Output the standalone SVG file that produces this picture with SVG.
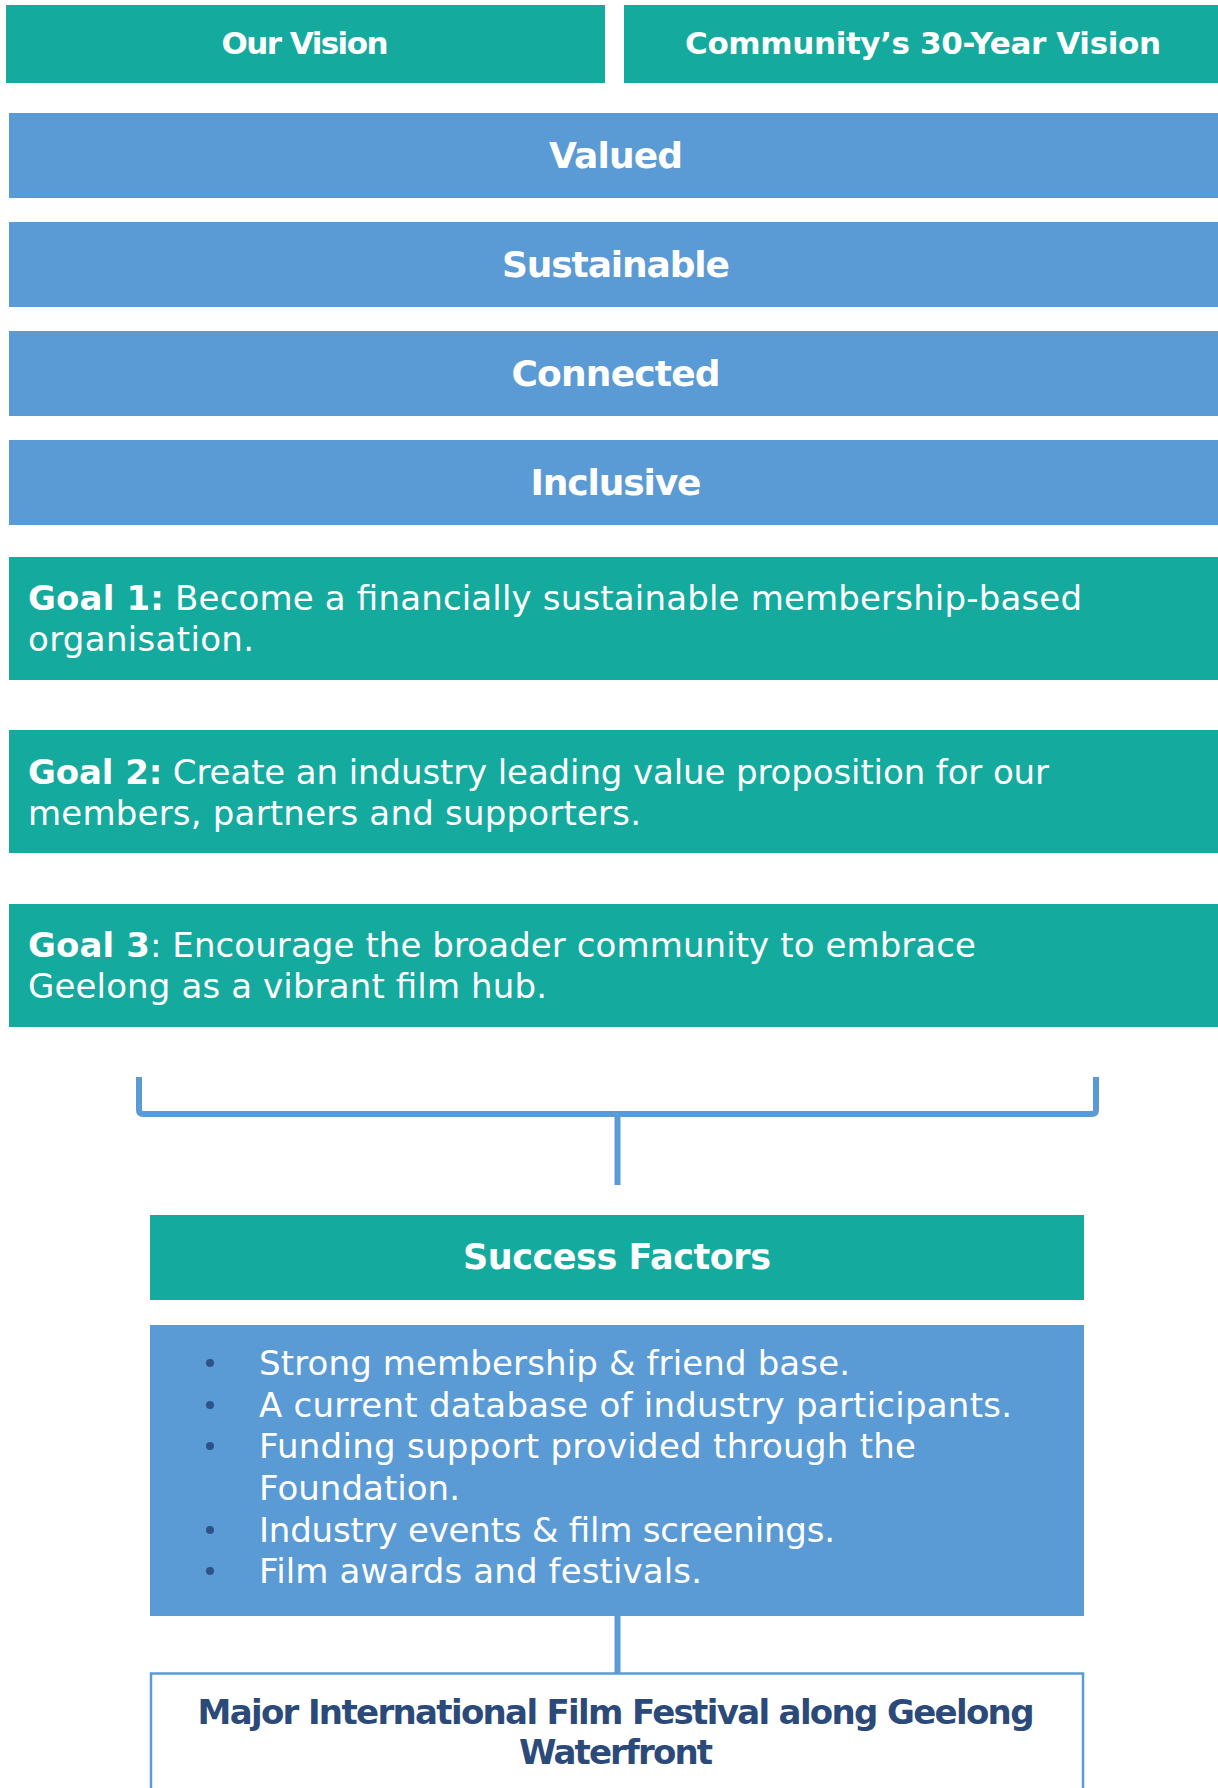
<svg xmlns="http://www.w3.org/2000/svg" width="1218" height="1788" viewBox="0 0 1218 1788">
<style>
.teal{fill:#14AA9D}
.blue{fill:#5B9BD5}
.hb{font-family:"DejaVu Sans",Inter,sans-serif;font-weight:700;fill:#fff;text-anchor:middle}
.gt{font-family:"DejaVu Sans",Inter,sans-serif;font-weight:400;fill:#fff;font-size:34px}
.gb{font-weight:700}
.bl{font-family:"DejaVu Sans",Inter,sans-serif;font-weight:400;fill:#fff;font-size:34px}
.dot{fill:#2C5287}
.conn{fill:none;stroke:#5B9BD5;stroke-width:6;stroke-linejoin:round}
</style>
<rect width="1218" height="1788" fill="#fff"/>
<g id="our-vision"><rect class="teal" x="6" y="5" width="599" height="78"/><text class="hb" x="305" y="54" font-size="31" textLength="167">Our Vision</text></g>
<g id="community-vision"><rect class="teal" x="624" y="5" width="594" height="78"/><text class="hb" x="923" y="54" font-size="31" textLength="476">Community’s 30-Year Vision</text></g>
<g id="valued"><rect class="blue" x="9" y="113" width="1209" height="85"/><text class="hb" x="616" y="168" font-size="36" textLength="134">Valued</text></g>
<g id="sustainable"><rect class="blue" x="9" y="222" width="1209" height="85"/><text class="hb" x="616" y="277" font-size="36" textLength="228">Sustainable</text></g>
<g id="connected"><rect class="blue" x="9" y="331" width="1209" height="85"/><text class="hb" x="616" y="386" font-size="36" textLength="209">Connected</text></g>
<g id="inclusive"><rect class="blue" x="9" y="440" width="1209" height="85"/><text class="hb" x="616" y="495" font-size="36" textLength="171">Inclusive</text></g>
<g id="goal1"><rect class="teal" x="9" y="557" width="1209" height="123"/>
<text class="gt" x="28" y="610" textLength="1054"><tspan class="gb">Goal 1:</tspan> Become a financially sustainable membership-based</text>
<text class="gt" x="28" y="651" textLength="226">organisation.</text></g>
<g id="goal2"><rect class="teal" x="9" y="730" width="1209" height="123"/>
<text class="gt" x="28" y="784" textLength="1021"><tspan class="gb">Goal 2:</tspan> Create an industry leading value proposition for our</text>
<text class="gt" x="28" y="825" textLength="613">members, partners and supporters.</text></g>
<g id="goal3"><rect class="teal" x="9" y="904" width="1209" height="123"/>
<text class="gt" x="28" y="957" textLength="948"><tspan class="gb">Goal 3</tspan>: Encourage the broader community to embrace</text>
<text class="gt" x="28" y="998" textLength="519">Geelong as a vibrant film hub.</text></g>
<g id="connectors">
<path class="conn" d="M139 1077 V1110 Q139 1114 143 1114 H1092 Q1096 1114 1096 1110 V1077"/>
<path class="conn" d="M617.5 1114 V1185"/>
<path class="conn" d="M617.5 1616 V1673"/>
</g>
<g id="success-factors"><rect class="teal" x="150" y="1215" width="934" height="85"/><text class="hb" x="617" y="1269" font-size="35" textLength="308">Success Factors</text></g>
<g id="success-list"><rect class="blue" x="150" y="1325" width="934" height="291"/>
<circle class="dot" cx="210" cy="1363" r="4"/>
<circle class="dot" cx="210" cy="1405" r="4"/>
<circle class="dot" cx="210" cy="1446" r="4"/>
<circle class="dot" cx="210" cy="1530" r="4"/>
<circle class="dot" cx="210" cy="1571" r="4"/>
<text class="bl" x="259" y="1375" textLength="591">Strong membership &amp; friend base.</text>
<text class="bl" x="259" y="1417" textLength="753">A current database of industry participants.</text>
<text class="bl" x="259" y="1458" textLength="657">Funding support provided through the</text>
<text class="bl" x="259" y="1500" textLength="201">Foundation.</text>
<text class="bl" x="259" y="1542" textLength="576">Industry events &amp; film screenings.</text>
<text class="bl" x="259" y="1583" textLength="443">Film awards and festivals.</text>
</g>
<g id="final-goal"><rect x="151" y="1673.5" width="932" height="130" fill="#fff" stroke="#5B9BD5" stroke-width="2.5"/>
<text x="616" y="1724" font-family="'DejaVu Sans',Inter,sans-serif" font-weight="700" font-size="34" fill="#2B4A7A" text-anchor="middle" textLength="837">Major International Film Festival along Geelong</text>
<text x="616" y="1764" font-family="'DejaVu Sans',Inter,sans-serif" font-weight="700" font-size="34" fill="#2B4A7A" text-anchor="middle" textLength="194">Waterfront</text>
</g>
</svg>
